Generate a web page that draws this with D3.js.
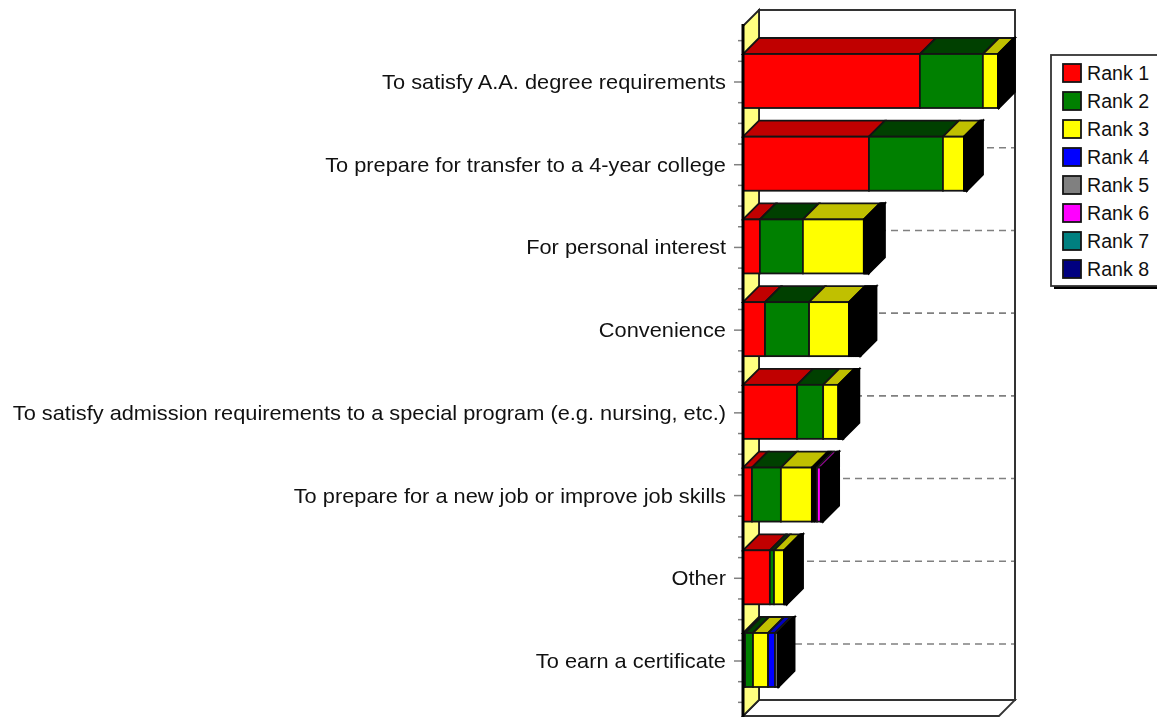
<!DOCTYPE html>
<html><head><meta charset="utf-8">
<script src="https://cdn.jsdelivr.net/npm/d3@7/dist/d3.min.js"></script>
<style>html,body{margin:0;padding:0;background:#fff;overflow:hidden}svg{display:block;filter:blur(0.5px)}text{font-family:"Liberation Sans",Arial,sans-serif;fill:#111}</style>
</head><body><svg id="c" width="1157" height="717"></svg>
<script>
const categories=["To satisfy A.A. degree requirements","To prepare for transfer to a 4-year college","For personal interest","Convenience","To satisfy admission requirements to a special program (e.g. nursing, etc.)","To prepare for a new job or improve job skills","Other","To earn a certificate"];
const seriesNames=["Rank 1","Rank 2","Rank 3","Rank 4","Rank 5","Rank 6","Rank 7","Rank 8"];
const seriesColors=["#ff0000","#008000","#ffff00","#0000ff","#808080","#ff00ff","#008080","#000080"];
const topColors=["#c00000","#004000","#c0c000","#0000c0","#606060","#c000c0","#006060","#000060"];
const rank1=[69.1,49.2,6.6,8.6,21.1,3.5,10.5,0.8];
const rank2=[24.6,28.9,16.8,17.2,10.2,11.3,1.6,3.1];
const rank3=[5.9,8.2,23.8,15.6,5.9,12.1,3.9,5.9];
const rank4=[0.4,0.4,0.4,0.9,0.4,1.0,0.3,2.7];
const rank5=[0,0.4,0.4,0.9,0.4,1.0,0.3,1.1];
const rank6=[0,0.4,0.4,0.9,0.4,1.5,0.3,0.1];
const rank7=[0,0,0.4,0.9,0.4,0.45,0.3,0.1];
const rank8=[0,0,0.4,0.9,0.4,0.45,0,0.1];
const ranks=[rank1,rank2,rank3,rank4,rank5,rank6,rank7,rank8];
const svg=d3.select("#c");
const dx=16,dy=-16;
const x=d3.scaleLinear().domain([0,100]).range([743,999]);
const y=d3.scalePoint().domain(categories).range([81,660]);
const barH=54;
const floorY=716,topY=26;
const ink="#141414";
const poly=(pts,fill,stroke,sw)=>svg.append("polygon").attr("points",pts.map(p=>p.join(",")).join(" ")).attr("fill",fill).attr("stroke",stroke||ink).attr("stroke-width",sw||1.8).attr("stroke-linejoin","miter");
// walls
svg.append("rect").attr("x",x(0)+dx).attr("y",topY+dy).attr("width",x(100)-x(0)).attr("height",floorY-topY).attr("fill","#fff").attr("stroke","#333").attr("stroke-width",2);
poly([[x(0),floorY],[x(100),floorY],[x(100)+dx,floorY+dy],[x(0)+dx,floorY+dy]],"#fff","#333",1.8);
poly([[x(0),topY],[x(0)+dx,topY+dy],[x(0)+dx,floorY+dy],[x(0),floorY]],"#ffff80","#222",1.8);
// gridlines
svg.append("g").selectAll("line").data(categories).join("line")
 .attr("x1",x(0)+dx).attr("x2",x(100)+dx-1).attr("y1",d=>y(d)+dy).attr("y2",d=>y(d)+dy)
 .attr("stroke","#808080").attr("stroke-width",1.6).attr("stroke-dasharray","7 5");
// bars: very thin segments are all outline, so they read as solid black
const stacks=d3.stack().keys(d3.range(8)).value((d,k)=>ranks[k][d])(d3.range(categories.length));
categories.forEach((c,i)=>{
 const t=y(c)-barH/2,b=y(c)+barH/2;
 const g=[];
 stacks.forEach((s,k)=>{ if(ranks[k][i]>0) g.push({k,a:x(s[i][0]),e:x(s[i][1])}); });
 const thin=o=>o.e-o.a<2.65&&o.k>0;
 g.forEach(o=>{
  poly([[o.a,t],[o.e,t],[o.e+dx,t+dy],[o.a+dx,t+dy]],thin(o)?"#000":topColors[o.k],thin(o)?"#000":ink);
 });
 const end=g[g.length-1].e;
 poly([[end,t],[end+dx,t+dy],[end+dx,b+dy],[end,b]],"#000","#000");
 g.forEach(o=>{
  svg.append("rect").attr("x",o.a).attr("y",t).attr("width",o.e-o.a).attr("height",b-t).attr("fill",thin(o)?"#000":seriesColors[o.k]).attr("stroke",thin(o)?"#000":ink).attr("stroke-width",1.8);
 });
});
// axis
const step=y.step()/4;
const minor=[];
for(let v=y(categories[0])-2*step;v<=floorY-10;v+=step) minor.push(v);
svg.append("g").selectAll("line").data(minor).join("line")
 .attr("x1",(d,i)=>i%4==2?734:738).attr("x2",743).attr("y1",d=>d+1).attr("y2",d=>d+1).attr("stroke","#808080").attr("stroke-width",1.5);
svg.append("line").attr("x1",x(0)).attr("x2",x(0)).attr("y1",topY-2).attr("y2",floorY+1).attr("stroke","#000").attr("stroke-width",3);
svg.append("g").selectAll("text").data(categories).join("text")
 .attr("transform",d=>`translate(726,${y(d)+8}) scale(1.09,1)`).attr("text-anchor","end").attr("font-size",20).text(d=>d);
// legend
svg.append("rect").attr("x",1054).attr("y",58).attr("width",120).attr("height",231).attr("fill","#000");
svg.append("rect").attr("x",1051).attr("y",55).attr("width",120).attr("height",231).attr("fill","#fff").attr("stroke","#333").attr("stroke-width",1.8);
const ly=d3.scalePoint().domain(seriesNames).range([73,269]);
const lg=svg.append("g").selectAll("g").data(seriesNames).join("g");
lg.append("rect").attr("x",1063).attr("y",d=>ly(d)-9).attr("width",18).attr("height",18).attr("fill",(d,i)=>seriesColors[i]).attr("stroke",ink).attr("stroke-width",1.8);
lg.append("text").attr("x",1087).attr("y",d=>ly(d)+7).attr("font-size",19.6).text(d=>d);
</script></body></html>
